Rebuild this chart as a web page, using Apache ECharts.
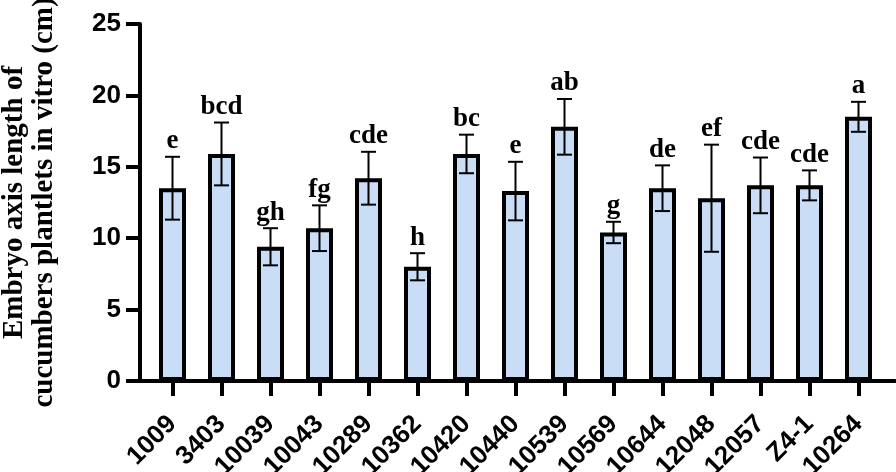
<!DOCTYPE html>
<html>
<head>
<meta charset="utf-8">
<script src="https://cdn.jsdelivr.net/npm/echarts@6/dist/echarts.min.js"></script>
<style>
  html, body { margin: 0; padding: 0; background: #fff; }
  #main { width: 896px; height: 472px; }
</style>
</head>
<body>
<div id="main"></div>
<script>
// genotypes, mean embryo axis length, error, significance letters
var categories = ['1009', '3403', '10039', '10043', '10289', '10362', '10420', '10440', '10539', '10569', '10644', '12048', '12057', 'Z4-1', '10264'];
var means = [13.5, 15.9, 9.4, 10.7, 14.2, 8.0, 15.9, 13.3, 17.8, 10.4, 13.5, 12.8, 13.7, 13.7, 18.5];
var errors = [2.2, 2.2, 1.3, 1.6, 1.85, 0.95, 1.35, 2.05, 1.95, 0.75, 1.6, 3.75, 1.95, 1.05, 1.05];
var letters = ['e', 'bcd', 'gh', 'fg', 'cde', 'h', 'bc', 'e', 'ab', 'g', 'de', 'ef', 'cde', 'cde', 'a'];
var yTicks = [0, 5, 10, 15, 20, 25];

var errData = [];
for (var i = 0; i < categories.length; i++) {
    errData.push([i, means[i], errors[i], letters[i]]);
}

var myChart = echarts.init(document.getElementById('main'));

var option = {
    animation: false,
    grid: [
        { left: 148, right: 13, top: 24, bottom: 91, outerBoundsMode: 'none', containLabel: false },
        { left: 138, right: 1, top: 24, bottom: 91, outerBoundsMode: 'none', containLabel: false }   // only for the long x axis line
    ],
    xAxis: [
        {
            type: 'category',
            gridIndex: 0,
            data: categories,
            axisLine: { show: false },
            axisTick: {
                show: true,
                alignWithLabel: true,
                length: 15,
                lineStyle: { color: '#000', width: 4 }
            },
            axisLabel: {
                rotate: 45,
                margin: 39,
                color: '#000',
                fontFamily: 'Liberation Sans',
                fontWeight: 'bold',
                fontSize: 26
            }
        },
        {
            type: 'value',
            gridIndex: 1,
            min: 0,
            max: 1,
            axisLine: { show: true, onZero: false, lineStyle: { color: '#000', width: 4 } },
            axisTick: { show: false },
            axisLabel: { show: false },
            splitLine: { show: false }
        }
    ],
    yAxis: [
        {
            type: 'value',
            gridIndex: 0,
            min: yTicks[0],
            max: yTicks[yTicks.length - 1],
            interval: 5,
            offset: 8,
            name: 'Embryo axis length of\ncucumbers plantlets in vitro (cm)',
            nameLocation: 'middle',
            nameGap: 80,
            nameTextStyle: {
                color: '#000',
                fontFamily: 'Liberation Serif',
                fontWeight: 'bold',
                fontSize: 29,
                lineHeight: 30
            },
            axisLine: { show: true, lineStyle: { color: '#000', width: 4 } },
            axisTick: { show: true, length: 14, lineStyle: { color: '#000', width: 4 } },
            axisLabel: {
                margin: 19,
                color: '#000',
                fontFamily: 'Liberation Sans',
                fontWeight: 'bold',
                fontSize: 26
            },
            splitLine: { show: false }
        },
        {
            type: 'value',
            gridIndex: 1,
            show: false
        }
    ],
    series: [
        {
            type: 'bar',
            xAxisIndex: 0,
            yAxisIndex: 0,
            data: means,
            barWidth: 27,
            itemStyle: {
                color: '#c9ddf6',
                borderColor: '#000',
                borderWidth: 4
            }
        },
        {
            type: 'custom',
            xAxisIndex: 0,
            yAxisIndex: 0,
            data: errData,
            z: 10,
            renderItem: function (params, api) {
                var idx = api.value(0);
                var m = api.value(1);
                var e = api.value(2);
                var hi = api.coord([idx, m + e]);
                var lo = api.coord([idx, m - e]);
                var cap = 7.5;
                var lineStyle = { stroke: '#000', lineWidth: 2 };
                return {
                    type: 'group',
                    children: [
                        { type: 'line', shape: { x1: hi[0], y1: hi[1], x2: lo[0], y2: lo[1] }, style: lineStyle },
                        { type: 'line', shape: { x1: hi[0] - cap, y1: hi[1], x2: hi[0] + cap, y2: hi[1] }, style: lineStyle },
                        { type: 'line', shape: { x1: lo[0] - cap, y1: lo[1], x2: lo[0] + cap, y2: lo[1] }, style: lineStyle },
                        {
                            type: 'text',
                            style: {
                                text: letters[params.dataIndex],
                                x: hi[0],
                                y: hi[1] - 2,
                                align: 'center',
                                verticalAlign: 'bottom',
                                fill: '#000',
                                font: 'bold 27px "Liberation Serif"'
                            }
                        }
                    ]
                };
            }
        }
    ]
};

myChart.setOption(option);
</script>
</body>
</html>
